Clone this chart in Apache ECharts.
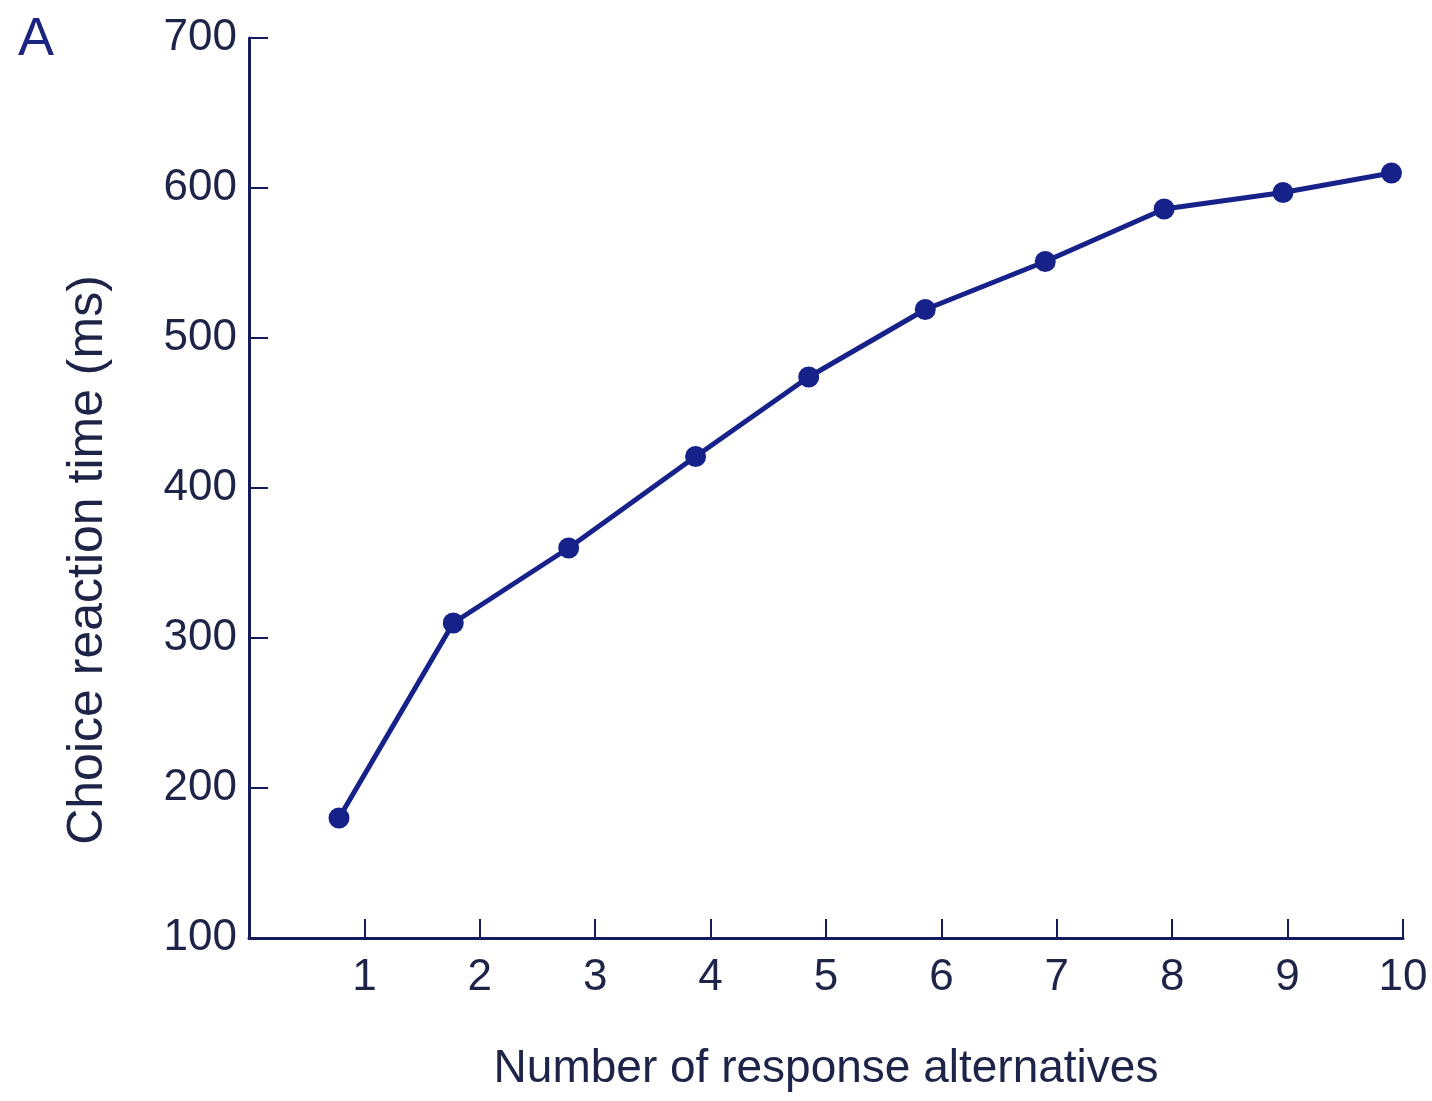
<!DOCTYPE html>
<html>
<head>
<meta charset="utf-8">
<script src="https://cdn.jsdelivr.net/npm/echarts@6/dist/echarts.min.js"></script>
<style>
  html, body { margin: 0; padding: 0; background: #ffffff; }
  #chart { width: 1432px; height: 1101px; }
</style>
</head>
<body>
<div id="chart"></div>
<script>
// Data
const alternatives = [0.78, 1.77, 2.77, 3.87, 4.85, 5.86, 6.90, 7.93, 8.96, 9.90];
const reactionTimeMs = [180, 310, 360, 421, 474, 519, 551, 586, 597, 610];
const xTickValues = [1, 2, 3, 4, 5, 6, 7, 8, 9, 10];
const yTickValues = [100, 200, 300, 400, 500, 600, 700];
const panelLabel = 'A';
const xTitle = 'Number of response alternatives';
const yTitle = 'Choice reaction time (ms)';

const seriesData = alternatives.map((x, i) => [x, reactionTimeMs[i]]);

const navy = '#16228a';
const axisNavy = '#141a5e';
const textColor = '#1e2447';
const font = '"Liberation Sans", Arial, sans-serif';

const chart = echarts.init(document.getElementById('chart'));
chart.setOption({
  backgroundColor: '#ffffff',
  animation: false,
  title: {
    text: panelLabel,
    left: 13,
    top: 8,
    textStyle: { color: '#1b2580', fontSize: 54, fontWeight: 'normal', fontFamily: font }
  },
  grid: { left: 249, right: 29, top: 38, bottom: 163, containLabel: false },
  xAxis: {
    type: 'value',
    min: 0,
    max: 10,
    interval: 1,
    name: xTitle,
    nameLocation: 'middle',
    nameGap: 108,
    nameTextStyle: { color: textColor, fontSize: 46, fontFamily: font },
    axisLine: { show: true, onZero: false, lineStyle: { color: axisNavy, width: 3 } },
    axisTick: { show: true, inside: true, length: 19, lineStyle: { color: axisNavy, width: 2 } },
    axisLabel: {
      color: textColor, fontSize: 44, fontFamily: font, margin: 18,
      formatter: v => (xTickValues.indexOf(v) >= 0 ? String(v) : '')
    },
    splitLine: { show: false }
  },
  yAxis: {
    type: 'value',
    min: 100,
    max: 700,
    interval: 100,
    name: yTitle,
    nameLocation: 'middle',
    nameGap: 136,
    nameTextStyle: { color: textColor, fontSize: 50, fontFamily: font, padding: [0, 144, 0, 0] },
    axisLine: { show: true, lineStyle: { color: axisNavy, width: 3 } },
    axisTick: { show: true, inside: true, length: 19, lineStyle: { color: axisNavy, width: 2 } },
    axisLabel: {
      color: textColor, fontSize: 44, fontFamily: font, margin: 12,
      formatter: v => (yTickValues.indexOf(v) >= 0 ? String(v) : '')
    },
    splitLine: { show: false }
  },
  series: [{
    type: 'line',
    data: seriesData,
    symbol: 'circle',
    symbolSize: 21,
    lineStyle: { color: navy, width: 5 },
    itemStyle: { color: navy },
    clip: false
  }]
});
</script>
</body>
</html>
